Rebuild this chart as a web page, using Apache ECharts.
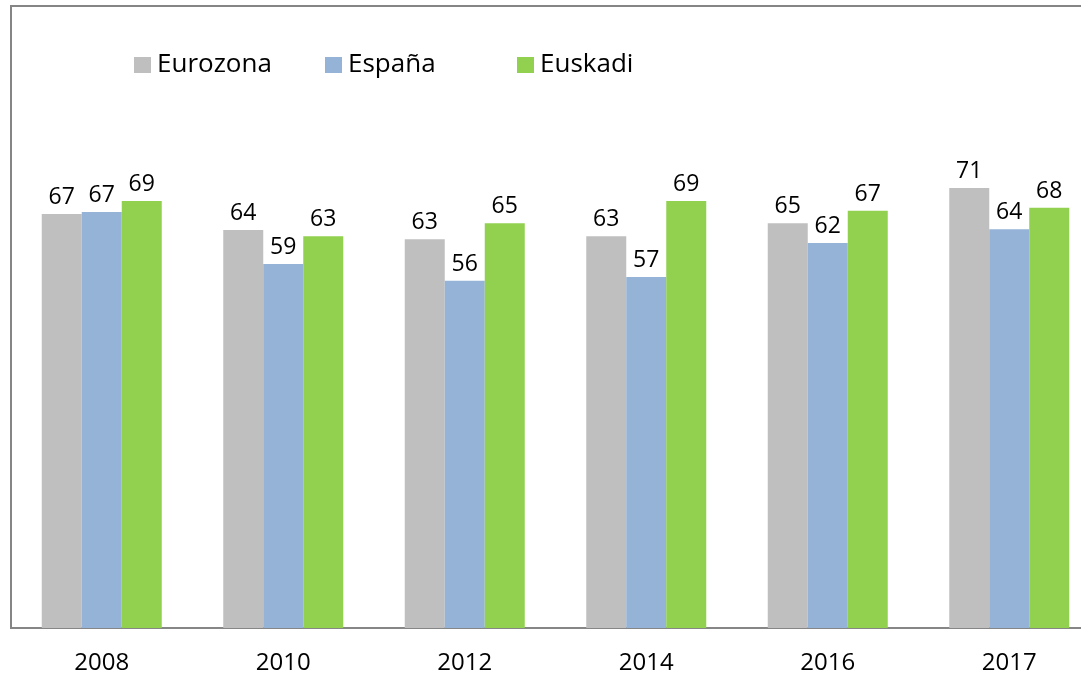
<!DOCTYPE html>
<html>
<head>
<meta charset="utf-8">
<script src="https://cdn.jsdelivr.net/npm/echarts@6/dist/echarts.min.js"></script>
<style>
  html, body { margin: 0; padding: 0; background: #fff; overflow: hidden; width: 1081px; height: 675px; }
  #chart { position: absolute; left: 0; top: 0; width: 1100px; height: 675px; }
  .frame { position: absolute; left: 10px; top: 5px; width: 1100px; height: 622px;
           border-left: 2px solid #858585; border-top: 2px solid #858585; pointer-events: none; }
</style>
</head>
<body>
<div id="chart"></div>
<div class="frame"></div>
<script>
// datos
const years = ['2008', '2010', '2012', '2014', '2016', '2017']
const eurozona = [66.9, 64.3, 62.8, 63.3, 65.4, 71.1]
const espana = [67.2, 58.8, 56.1, 56.7, 62.2, 64.4]
const euskadi = [69.0, 63.3, 65.4, 69.0, 67.4, 67.9]

const seriesDef = [
  { name: 'Eurozona', data: eurozona, color: '#BFBFBF' },
  { name: 'España', data: espana, color: '#95B3D7' },
  { name: 'Euskadi', data: euskadi, color: '#92D050' }
]
const legendLeft = [129, 320, 512]
const font = '"Open Sans", "Noto Sans", sans-serif'

const myChart = echarts.init(document.getElementById('chart'))

const option = {
  animation: false,
  textStyle: { fontFamily: font },
  legend: seriesDef.map((s, i) => ({
    data: [s.name],
    left: legendLeft[i],
    top: 47,
    icon: 'rect',
    itemWidth: 17,
    itemHeight: 16,
    itemGap: 0,
    textStyle: { color: '#000', fontSize: 26, fontFamily: font, padding: [0, 0, 0, 1] }
  })),
  grid: { left: 11, right: 0, top: 9, bottom: 47, containLabel: false },
  xAxis: {
    type: 'category',
    data: years,
    axisTick: { show: false },
    axisLine: { lineStyle: { color: '#868686', width: 2 } },
    axisLabel: { color: '#000', fontSize: 24, margin: 23, fontFamily: font }
  },
  yAxis: {
    type: 'value',
    min: 0,
    max: 100,
    show: false
  },
  series: seriesDef.map(s => ({
    name: s.name,
    type: 'bar',
    data: s.data,
    barWidth: 40,
    barGap: '0%',
    itemStyle: { color: s.color },
    label: {
      show: true,
      position: 'top',
      distance: 5,
      color: '#000',
      fontSize: 23,
      fontFamily: font,
      formatter: p => Math.round(p.value)
    }
  }))
}

myChart.setOption(option)
</script>
</body>
</html>
